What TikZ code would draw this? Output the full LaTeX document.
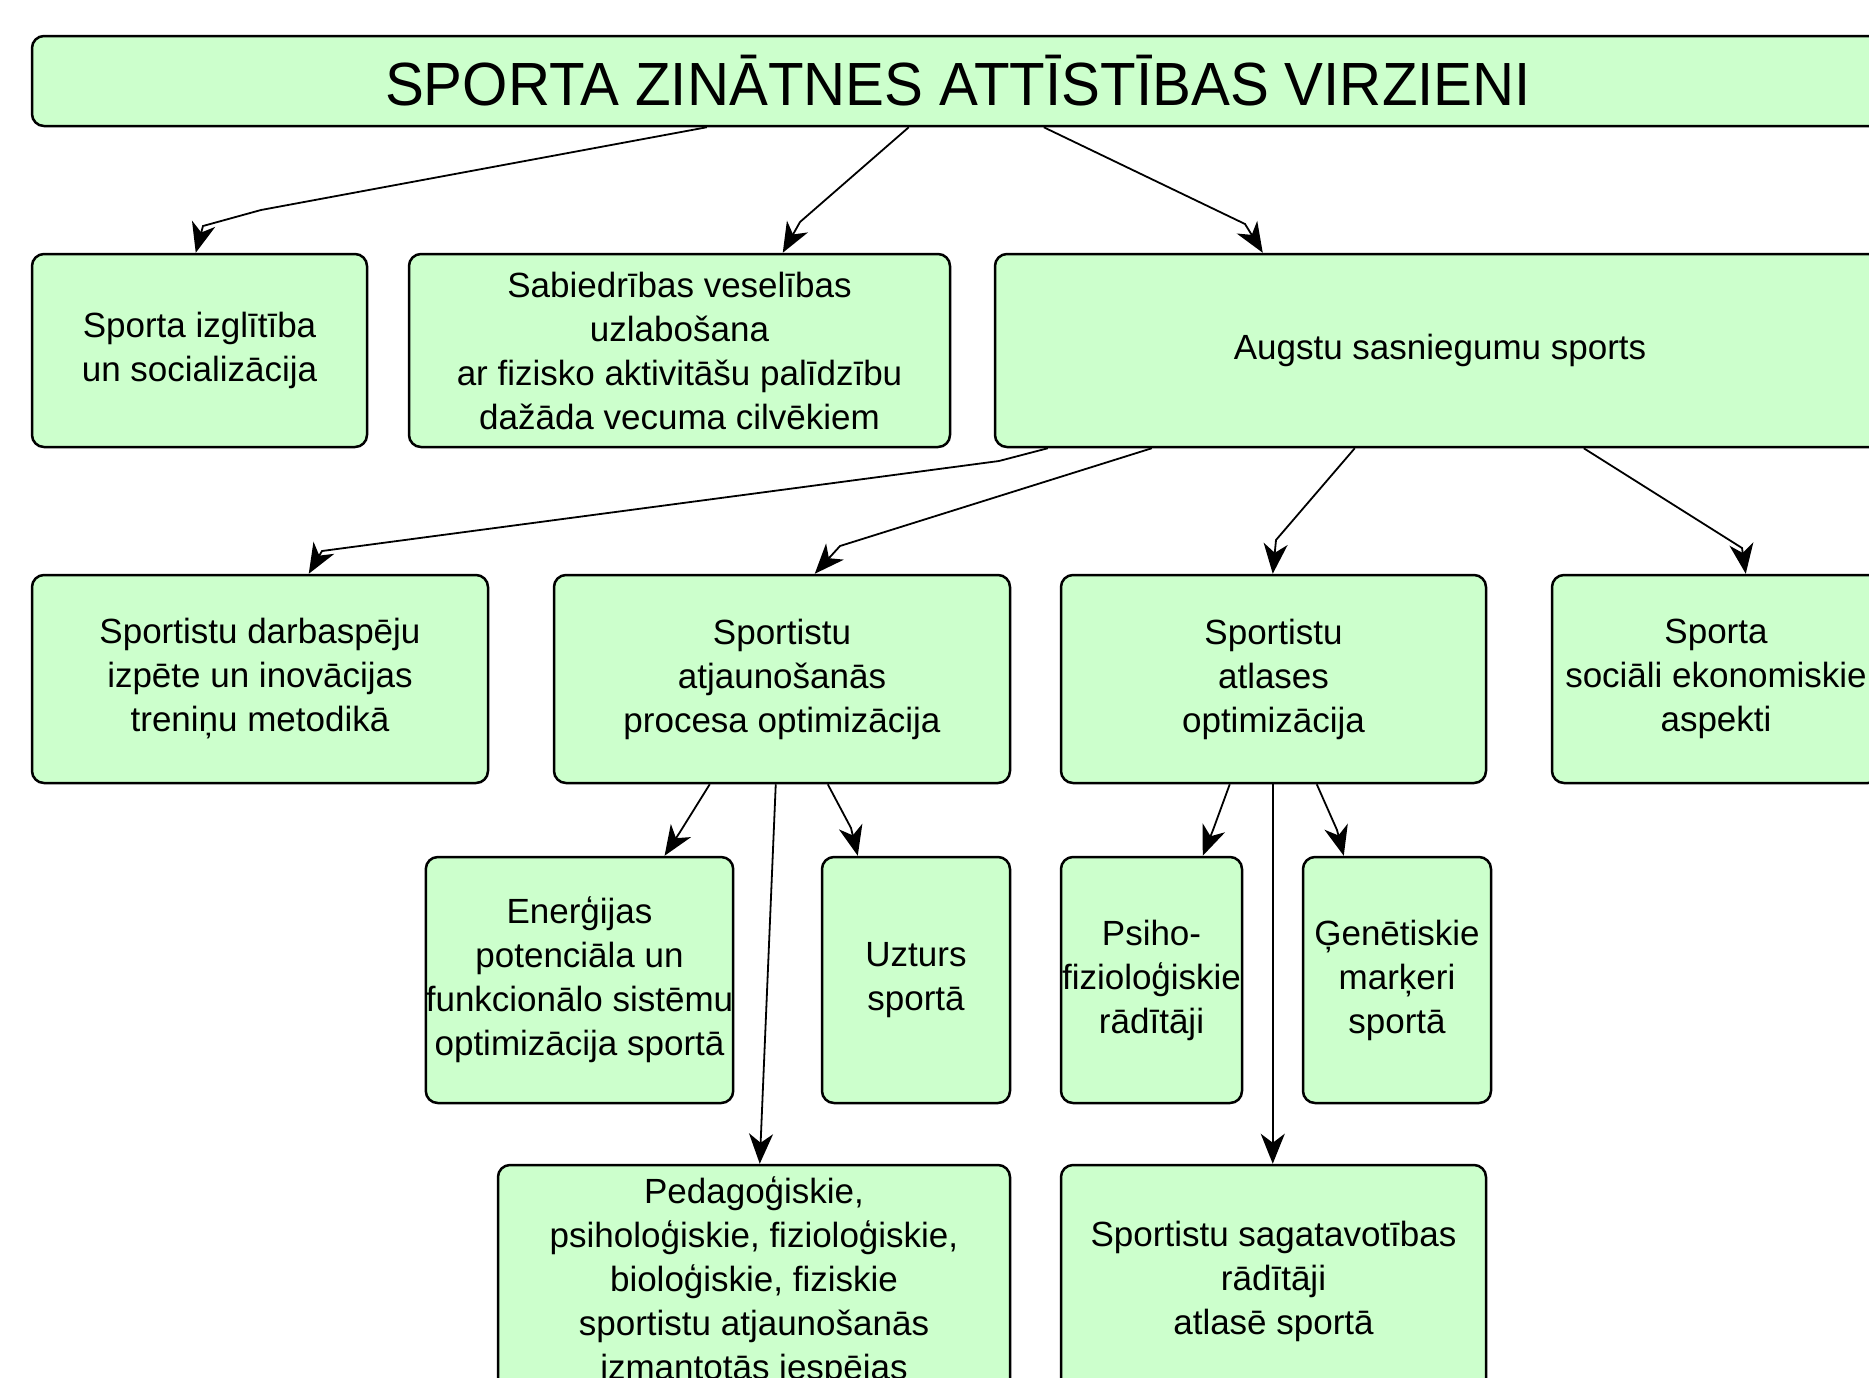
\documentclass[tikz,border=0pt]{standalone}
\usepackage{fontspec}
\setmainfont{Liberation Sans}
\newfontfamily\titlefont{Liberation Sans}[FakeStretch=0.955]
\usetikzlibrary{arrows.meta}
\definecolor{boxgreen}{HTML}{CCFFCC}
\begin{document}
\begin{tikzpicture}[x=1pt,y=-1pt,
  box/.style={draw=black, line width=2.5pt, fill=boxgreen, rounded corners=12pt,
    inner sep=0pt, align=center, font=\fontsize{35}{44}\selectfont},
  arr/.style={line width=1.8pt, -{Stealth[length=30pt,width=24pt,inset=9pt]}}]
\useasboundingbox (0,0) rectangle (1869,1377);
\clip (0,0) rectangle (1869,1377);
% title
\node[box, minimum width=1852pt, minimum height=90pt,
      font=\titlefont\fontsize{61}{70}\selectfont] (title) at (958,81)
  {SPORTA ZINĀTNES ATTĪSTĪBAS VIRZIENI};
% row B
\node[box, minimum width=335pt, minimum height=193pt] (b1) at (199.5,350.5)
  {Sporta izglītība\\un socializācija};
\node[box, minimum width=541pt, minimum height=193pt] (b2) at (679.5,350.5)
  {Sabiedrības veselības\\uzlabošana\\ar fizisko aktivitāšu palīdzību\\dažāda vecuma cilvēkiem};
\node[box, minimum width=890pt, minimum height=193pt] (b3) at (1440,350.5)
  {Augstu sasniegumu sports};
% row C
\node[box, minimum width=456pt, minimum height=208pt] (c1) at (260,679)
  {Sportistu darbaspēju\\izpēte un inovācijas\\treniņu metodikā};
\node[box, minimum width=456pt, minimum height=208pt] (c2) at (782,679)
  {Sportistu\\atjaunošanās\\procesa optimizācija};
\node[box, minimum width=425pt, minimum height=208pt] (c3) at (1273.5,679)
  {Sportistu\\atlases\\optimizācija};
\node[box, minimum width=328pt, minimum height=208pt] (c4) at (1716,679)
  {Sporta\\sociāli ekonomiskie\\aspekti};
% row D
\node[box, minimum width=307pt, minimum height=246pt] (d1) at (579.5,980)
  {Enerģijas\\potenciāla un\\funkcionālo sistēmu\\optimizācija sportā};
\node[box, minimum width=188pt, minimum height=246pt] (d2) at (916,980)
  {Uzturs\\sportā};
\node[box, minimum width=181pt, minimum height=246pt] (d3) at (1151.5,980)
  {Psiho-\\fizioloģiskie\\rādītāji};
\node[box, minimum width=188pt, minimum height=246pt] (d4) at (1397,980)
  {Ģenētiskie\\marķeri\\sportā};
% row E
\node[box, minimum width=512pt, minimum height=233pt] (e1) at (754,1281.5)
  {Pedagoģiskie,\\psiholoģiskie, fizioloģiskie,\\bioloģiskie, fiziskie\\sportistu atjaunošanās\\izmantotās iespējas};
\node[box, minimum width=425pt, minimum height=233pt] (e2) at (1273.5,1281.5)
  {Sportistu sagatavotības\\rādītāji\\atlasē sportā};
% connectors from title
\draw[arr] ([xshift=676pt]title.south west) -- (261,210) -- (203,226) -- ([xshift=165pt]b1.north west);
\draw[arr] ([xshift=878pt]title.south west) -- (800,222) -- ([xshift=375pt]b2.north west);
\draw[arr] ([xshift=1013pt]title.south west) -- (1245,224) -- ([xshift=269pt]b3.north west);
% connectors from b3
\draw[arr] ([xshift=54pt]b3.south west) -- (999,461) -- (322,551) -- ([xshift=278pt]c1.north west);
\draw[arr] ([xshift=158pt]b3.south west) -- (840,546) -- ([xshift=262pt]c2.north west);
\draw[arr] ([xshift=361pt]b3.south west) -- (1276,540) -- ([xshift=213pt]c3.north west);
\draw[arr] ([xshift=590pt]b3.south west) -- (1742,548) -- ([xshift=195pt]c4.north west);
% connectors from c2
\draw[arr] ([xshift=157pt]c2.south west) -- (680,832) -- ([xshift=240pt]d1.north west);
\draw[arr] ([xshift=223pt]c2.south west) -- ([xshift=263pt]e1.north west);
\draw[arr] ([xshift=275pt]c2.south west) -- (851,828) -- ([xshift=37pt]d2.north west);
% connectors from c3
\draw[arr] ([xshift=170pt]c3.south west) -- (1213,830) -- ([xshift=143pt]d3.north west);
\draw[arr] ([xshift=213pt]c3.south west) -- ([xshift=213pt]e2.north west);
\draw[arr] ([xshift=257pt]c3.south west) -- (1337,830) -- ([xshift=42pt]d4.north west);
\end{tikzpicture}
\end{document}
